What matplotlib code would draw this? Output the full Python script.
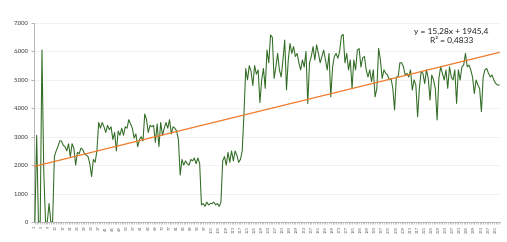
import matplotlib
matplotlib.use("Agg")
import matplotlib.pyplot as plt
import numpy as np

values = [
    0, 3050, 0, 0, 6050, 1800, 0, 0, 650, 0,
    0, 2300, 2500, 2650, 2850, 2850, 2700, 2650, 2500, 2750,
    2300, 2750, 2600, 2000, 2450, 2400, 2600, 2550, 2400, 2350,
    2300, 2050, 1600, 2200, 2100, 2500, 3500, 3300, 3500, 3350,
    3150, 3400, 3250, 3350, 2900, 3150, 2500, 3200, 3050, 3300,
    3050, 3350, 3300, 3600, 3450, 3300, 2950, 3100, 2650, 2900,
    3000, 2850, 3800, 3600, 3150, 3400, 3350, 3400, 2800, 3450,
    2650, 3500, 3050, 3300, 3500, 3300, 3600, 3100, 3350, 3300,
    3200, 2900, 1650, 2200, 2000, 2150, 2050, 2000, 2200, 2150,
    2250, 2050, 2250, 2050, 600, 650, 550, 700, 600, 650,
    650, 700, 600, 650, 550, 700, 2150, 2300, 2000, 2450,
    2100, 2500, 2150, 2500, 2350, 2100, 2200, 2500, 3800, 5400,
    5000, 5500, 5300, 4800, 5500, 5200, 5350, 4200, 5000, 5400,
    4700, 6050, 5600, 6580, 6500, 5050, 5450, 5930, 5350, 5100,
    5700, 6400, 4650, 5700, 6280, 5930, 6170, 5820, 5930, 5600,
    5350, 5700, 5450, 6000, 4170, 5600, 5820, 6170, 5700, 6230,
    5930, 5600, 5820, 6050, 5700, 5350, 5930, 4400, 5450, 5820,
    5930, 5760, 6000, 6550, 6600, 5600, 5930, 5350, 5700, 4700,
    5700, 5350, 6050, 6100, 5450, 5780, 5820, 5350, 5100, 5350,
    4940, 5350, 4400, 4700, 6110, 5700, 5050, 5350, 5230, 5170,
    5000, 5050, 4700, 3940, 5100, 5100, 5600, 5600, 5460, 5170,
    5230, 5100, 5350, 4640, 5000, 4820, 3700, 4700, 5290, 5230,
    4870, 5350, 5050, 4290, 5170, 4995, 4700, 3590, 5050, 5460,
    5230, 4995, 5350, 4700, 5460, 5100, 4995, 5350, 4170, 5350,
    4995, 5460, 5520, 5930, 5460, 5520, 5350, 5100, 4520, 4995,
    4820, 4700, 3880, 5100, 5350, 5400, 5230, 5100, 5170, 4995,
    4880, 4820, 4820,
]
slope = 15.28
intercept = 1945.4
r2 = 0.4833
y_ticks = [0, 1000, 2000, 3000, 4000, 5000, 6000, 7000]
y_tick_labels = ["0", "1.000", "2.000", "3.000", "4.000", "5.000", "6.000", "7.000"]

n = len(values)
x = np.arange(1, n + 1)
xlabel_pos = list(range(1, n + 1, 4))

fig = plt.figure(figsize=(5.07, 2.42), dpi=100)
ax = fig.add_axes([34 / 507, 20 / 242, 466 / 507, 199 / 242])

ax.plot(x, values, color="#2f6b22", linewidth=0.75, zorder=3)
trend_x = np.array([x[0], x[-1]])
ax.plot(trend_x, slope * trend_x + intercept, color="#f07a2a", linewidth=0.9, zorder=4)

ax.set_xlim(0.5, n + 0.5)
ax.set_ylim(0, 7000)
ax.set_yticks(y_ticks)
ax.set_yticklabels(y_tick_labels, fontsize=4.2, family="Lato", color="#333333")
ax.set_xticks(xlabel_pos)
ax.set_xticklabels([str(v) for v in xlabel_pos], rotation=90, fontsize=3.0,
                   family="Lato", color="#666666")
ax.set_xticks(x, minor=True)
ax.tick_params(axis="x", which="both", length=1.2, width=0.4, color="#999999", pad=1.5)
ax.tick_params(axis="y", length=2, width=0.5, color="#999999", pad=2)

ax.grid(axis="y", color="#f0f0f0", linewidth=0.6)
ax.set_axisbelow(True)
for s in ["top", "right"]:
    ax.spines[s].set_visible(False)
ax.spines["left"].set_color("#aaaaaa")
ax.spines["bottom"].set_color("#aaaaaa")
ax.spines["left"].set_linewidth(0.6)
ax.spines["bottom"].set_linewidth(0.6)

eq = f"y = {slope:.2f}x + {intercept:.1f}".replace(".", ",")
rt = f"R² = {r2:.4f}".replace(".", ",")
ax.text(x[-1] - 27, 6540, eq + "\n" + rt, ha="center", va="center",
        fontsize=6.0, family="Lato", color="#222222", linespacing=1.05, zorder=5)

fig.savefig("out.png", dpi=100, facecolor="white")
